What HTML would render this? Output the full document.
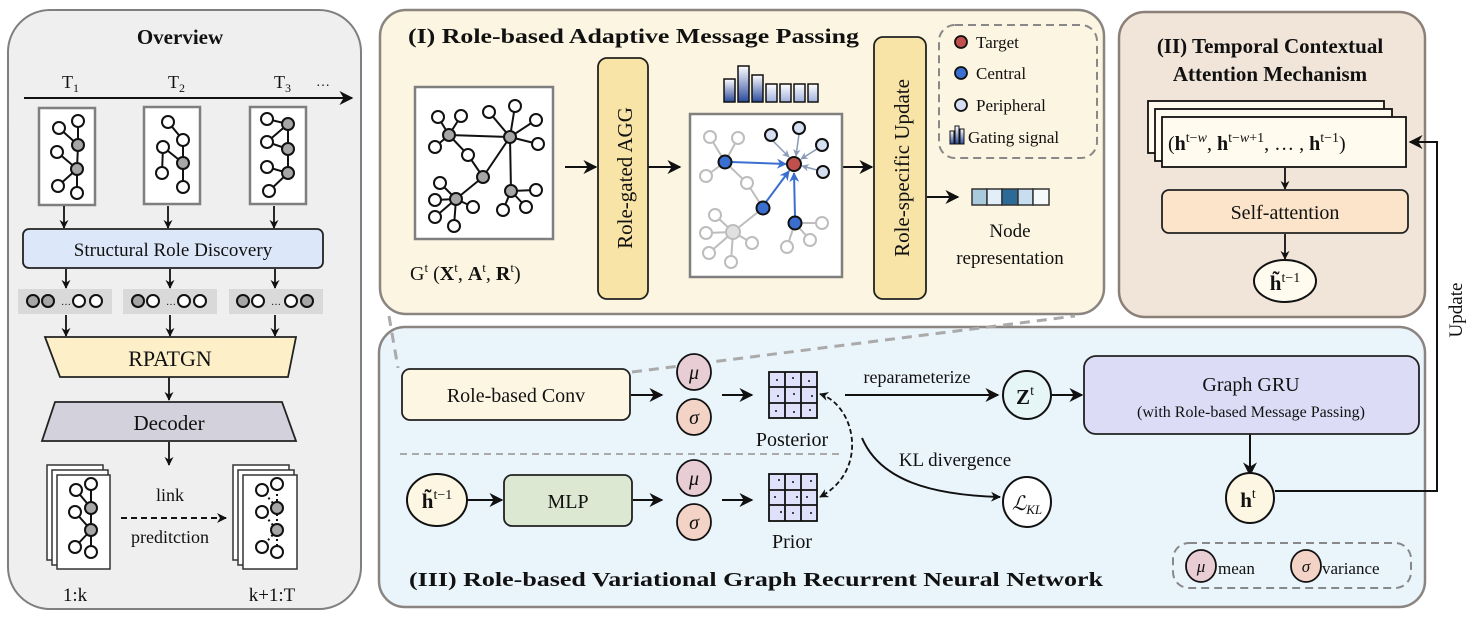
<!DOCTYPE html>
<html><head><meta charset="utf-8"><style>
html,body{margin:0;padding:0;background:#fff}
svg{display:block}
text{font-family:"Liberation Serif",serif;fill:#111}
</style></head><body>
<svg width="1470" height="620" viewBox="0 0 1470 620" xmlns="http://www.w3.org/2000/svg">
<defs>
<marker id="ah" viewBox="0 0 10 10" refX="9" refY="5" markerWidth="7" markerHeight="7" orient="auto-start-reverse"><path d="M0,0 L10,5 L0,10 L3,5 z" fill="#111"/></marker>
<marker id="ahs" viewBox="0 0 10 10" refX="9" refY="5" markerWidth="5" markerHeight="5" orient="auto-start-reverse"><path d="M0,0 L10,5 L0,10 L3,5 z" fill="#111"/></marker>
<marker id="ahb" viewBox="0 0 10 10" refX="9" refY="5" markerWidth="5" markerHeight="5" orient="auto"><path d="M0,0 L10,5 L0,10 L3,5 z" fill="#3a6fd0"/></marker>
<marker id="ahg" viewBox="0 0 10 10" refX="9" refY="5" markerWidth="5" markerHeight="5" orient="auto"><path d="M0,0 L10,5 L0,10 L3,5 z" fill="#8a9ab8"/></marker>
<linearGradient id="gb" x1="0" y1="0" x2="0" y2="1"><stop offset="0" stop-color="#fff"/><stop offset="1" stop-color="#2a4a9c"/></linearGradient>
<linearGradient id="gl" x1="0" y1="0" x2="0" y2="1"><stop offset="0" stop-color="#fff"/><stop offset="1" stop-color="#9fb0dc"/></linearGradient>
</defs>

<!-- ============ OVERVIEW ============ -->
<rect x="8" y="10" width="353" height="599" rx="42" fill="#efefef" stroke="#7f7f7f" stroke-width="2"/>
<text x="180" y="44" font-size="21" font-weight="bold" text-anchor="middle">Overview</text>
<line x1="24" y1="98" x2="352" y2="98" stroke="#111" stroke-width="2" marker-end="url(#ah)"/>
<text x="62" y="88" font-size="18">T<tspan font-size="12" dy="4">1</tspan></text>
<text x="168" y="88" font-size="18">T<tspan font-size="12" dy="4">2</tspan></text>
<text x="274" y="88" font-size="18">T<tspan font-size="12" dy="4">3</tspan></text>
<text x="316" y="86" font-size="14">…</text>

<g stroke="#7f7f7f" stroke-width="2.5" fill="#fff">
<rect x="39" y="108" width="56" height="97"/><rect x="144" y="107" width="56" height="97"/><rect x="250" y="107" width="56" height="97"/>
</g>
<g stroke="#111" stroke-width="2" fill="none">
<path d="M59,128 L78,145 M78,121 L78,145 L77,169 M57,152 L77,169 L58,186 M77,169 L77,193"/>
<path d="M168,122 L183,140 L183,163 M163,147 L183,163 L183,187 M163,147 L162,173"/>
<path d="M267,119 L288,124 L288,149 L288,173 M288,124 L267,142 L288,149 M267,167 L288,173 L269,191"/>
</g>
<g stroke="#111" stroke-width="2" fill="#fff">
<circle cx="59" cy="128" r="6"/><circle cx="78" cy="121" r="6"/><circle cx="57" cy="152" r="6"/><circle cx="58" cy="186" r="6"/><circle cx="77" cy="193" r="6"/>
<circle cx="78" cy="145" r="6" fill="#a6a6a6"/><circle cx="77" cy="169" r="6" fill="#a6a6a6"/>
<circle cx="168" cy="122" r="6"/><circle cx="183" cy="140" r="6"/><circle cx="163" cy="147" r="6"/><circle cx="162" cy="173" r="6"/><circle cx="183" cy="187" r="6"/><circle cx="183" cy="163" r="6" fill="#a6a6a6"/>
<circle cx="267" cy="119" r="6"/><circle cx="267" cy="142" r="6"/><circle cx="267" cy="167" r="6"/><circle cx="269" cy="191" r="6"/>
<circle cx="288" cy="124" r="6" fill="#a6a6a6"/><circle cx="288" cy="149" r="6" fill="#a6a6a6"/><circle cx="288" cy="173" r="6" fill="#a6a6a6"/>
</g>
<g stroke="#111" stroke-width="1.8" marker-end="url(#ahs)">
<line x1="64" y1="206" x2="64" y2="228"/><line x1="168" y1="206" x2="168" y2="228"/><line x1="274" y1="206" x2="274" y2="228"/>
<line x1="66" y1="269" x2="66" y2="288"/><line x1="170" y1="269" x2="170" y2="288"/><line x1="275" y1="269" x2="275" y2="288"/>
<line x1="66" y1="315" x2="66" y2="336"/><line x1="170" y1="315" x2="170" y2="336"/><line x1="275" y1="315" x2="275" y2="336"/>
<line x1="169" y1="377" x2="169" y2="400"/><line x1="169" y1="442" x2="169" y2="465"/>
</g>
<rect x="23" y="229" width="300" height="39" rx="6" fill="#dce8f9" stroke="#222" stroke-width="1.8"/>
<text x="173" y="256" font-size="19" text-anchor="middle">Structural Role Discovery</text>
<g fill="#d9d9d9"><rect x="18" y="289" width="94" height="25"/><rect x="123" y="289" width="94" height="25"/><rect x="229" y="289" width="94" height="25"/></g>
<g stroke="#111" stroke-width="2">
<g fill="#a6a6a6"><circle cx="33" cy="301" r="6"/><circle cx="48" cy="301" r="6"/><circle cx="138" cy="301" r="6"/><circle cx="243" cy="301" r="6"/><circle cx="307" cy="301" r="6"/></g>
<g fill="#fff"><circle cx="79" cy="301" r="6"/><circle cx="96" cy="301" r="6"/><circle cx="153" cy="301" r="6"/><circle cx="184" cy="301" r="6"/><circle cx="200" cy="301" r="6"/><circle cx="258" cy="301" r="6"/><circle cx="291" cy="301" r="6"/></g>
</g>
<text x="66" y="305" font-size="10" text-anchor="middle">…</text><text x="171" y="305" font-size="10" text-anchor="middle">…</text><text x="276" y="305" font-size="10" text-anchor="middle">…</text>
<polygon points="45,337 296,337 288,377 60,377" fill="#fdf0c8" stroke="#222" stroke-width="1.8"/>
<text x="170" y="366" font-size="22" text-anchor="middle">RPATGN</text>
<polygon points="55,402 282,402 296,441 42,441" fill="#d3d1dc" stroke="#222" stroke-width="1.8"/>
<text x="169" y="430" font-size="21" text-anchor="middle">Decoder</text>
<!-- stacks -->
<g stroke="#333" stroke-width="1.5" fill="#fff">
<rect x="47" y="465" width="56" height="95"/><rect x="52" y="470" width="56" height="95"/><rect x="57" y="475" width="53" height="94"/>
<rect x="233" y="465" width="56" height="95"/><rect x="238" y="470" width="56" height="95"/><rect x="243" y="475" width="54" height="94"/>
</g>
<g stroke="#111" stroke-width="2" fill="none">
<path d="M76,490 L91,508 M91,484 L91,508 L91,530 M75,512 L91,530 L75,547 M91,530 L91,552"/>
</g>
<g stroke="#111" stroke-width="2" stroke-dasharray="2,3" fill="none">
<path d="M262,490 L277,508 M262,512 L277,530 L262,547"/>
<path d="M277,484 L277,552"/>
</g>
<g stroke="#111" stroke-width="2" fill="#fff">
<circle cx="76" cy="490" r="6"/><circle cx="91" cy="484" r="6"/><circle cx="75" cy="512" r="6"/><circle cx="75" cy="547" r="6"/><circle cx="91" cy="552" r="6"/>
<circle cx="91" cy="508" r="6" fill="#a6a6a6"/><circle cx="91" cy="530" r="6" fill="#a6a6a6"/>
<circle cx="262" cy="490" r="6"/><circle cx="277" cy="484" r="6"/><circle cx="262" cy="512" r="6"/><circle cx="262" cy="547" r="6"/><circle cx="277" cy="552" r="6"/>
<circle cx="277" cy="508" r="6" fill="#a6a6a6"/><circle cx="277" cy="530" r="6" fill="#a6a6a6"/>
</g>
<line x1="121" y1="518" x2="226" y2="518" stroke="#111" stroke-width="2" stroke-dasharray="6,4" marker-end="url(#ahs)"/>
<text x="170" y="501" font-size="18" text-anchor="middle">link</text>
<text x="170" y="543" font-size="18" text-anchor="middle">preditction</text>
<text x="75" y="601" font-size="19" text-anchor="middle">1:k</text>
<text x="272" y="601" font-size="19" text-anchor="middle">k+1:T</text>

<!-- ============ PANEL III ============ -->
<rect x="379" y="327" width="1046" height="280" rx="26" fill="#eaf4fb" stroke="#8a8580" stroke-width="2.5"/>
<!-- ============ PANEL I ============ -->
<rect x="380" y="10" width="724" height="304" rx="26" fill="#fcf5e1" stroke="#8a8580" stroke-width="2.5"/>
<g stroke="#aaa" stroke-width="3" stroke-dasharray="10,7" fill="none">
<path d="M389,316 L398,368"/><path d="M632,372 L1075,316"/>
</g>
<text x="408" y="43" font-size="21" font-weight="bold" textLength="451" lengthAdjust="spacingAndGlyphs">(I) Role-based Adaptive Message Passing</text>
<!-- graph 1 -->
<rect x="415" y="87" width="138" height="152" fill="#fff" stroke="#7f7f7f" stroke-width="2.5"/>
<g stroke="#111" stroke-width="2" fill="none">
<path d="M449,135 L510,137 M449,135 L438,117 M449,135 L461,116 M449,135 L435,147 M449,135 L468,155 L483,177 M510,137 L483,177 L456,199 M510,137 L489,112 M510,137 L515,106 M510,137 L536,120 M510,137 L538,144 M510,137 L511,191 M456,199 L440,183 M456,199 L435,200 M456,199 L435,217 M456,199 L454,226 M456,199 L473,207 M511,191 L503,210 M511,191 L526,207 M511,191 L536,190"/>
</g>
<g stroke="#111" stroke-width="2" fill="#fff">
<circle cx="438" cy="117" r="6"/><circle cx="461" cy="116" r="6"/><circle cx="435" cy="147" r="6"/><circle cx="468" cy="155" r="6"/><circle cx="489" cy="112" r="6"/><circle cx="515" cy="106" r="6"/><circle cx="536" cy="120" r="6"/><circle cx="538" cy="144" r="6"/><circle cx="440" cy="183" r="6"/><circle cx="435" cy="200" r="6"/><circle cx="435" cy="217" r="6"/><circle cx="454" cy="226" r="6"/><circle cx="473" cy="207" r="6"/><circle cx="503" cy="210" r="6"/><circle cx="526" cy="207" r="6"/><circle cx="536" cy="190" r="6"/>
<g fill="#a6a6a6"><circle cx="449" cy="135" r="6"/><circle cx="510" cy="137" r="6"/><circle cx="483" cy="177" r="6"/><circle cx="456" cy="199" r="6"/><circle cx="511" cy="191" r="6"/></g>
</g>
<text x="410" y="280" font-size="20">G<tspan font-size="13" dy="-8">t</tspan><tspan dy="8"> (</tspan><tspan font-weight="bold">X</tspan><tspan font-size="13" dy="-8">t</tspan><tspan dy="8">, </tspan><tspan font-weight="bold">A</tspan><tspan font-size="13" dy="-8">t</tspan><tspan dy="8">, </tspan><tspan font-weight="bold">R</tspan><tspan font-size="13" dy="-8">t</tspan><tspan dy="8">)</tspan></text>
<g stroke="#111" stroke-width="2" marker-end="url(#ah)">
<line x1="565" y1="167" x2="596" y2="167"/><line x1="648" y1="167" x2="680" y2="167"/><line x1="843" y1="167" x2="872" y2="167"/><line x1="927" y1="197" x2="958" y2="197"/>
</g>
<rect x="598" y="58" width="50" height="241" rx="9" fill="#f8e4a6" stroke="#222" stroke-width="1.8"/>
<text transform="translate(632,178) rotate(-90)" font-size="21" text-anchor="middle">Role-gated AGG</text>
<rect x="874" y="37" width="52" height="262" rx="9" fill="#f8e4a6" stroke="#222" stroke-width="1.8"/>
<text transform="translate(909,168) rotate(-90)" font-size="21" text-anchor="middle">Role-specific Update</text>
<!-- bars -->
<g stroke="#111" stroke-width="1.5">
<rect x="724" y="79" width="11" height="23" fill="url(#gb)"/><rect x="738" y="66" width="11" height="36" fill="url(#gb)"/><rect x="752" y="75" width="11" height="27" fill="url(#gb)"/>
<rect x="766" y="84" width="11" height="18" fill="url(#gl)"/><rect x="780" y="84" width="11" height="18" fill="url(#gl)"/><rect x="794" y="84" width="11" height="18" fill="url(#gl)"/><rect x="808" y="84" width="10" height="18" fill="url(#gl)"/>
</g>
<!-- graph 2 -->
<rect x="690" y="114" width="152" height="163" fill="#fff" stroke="#7f7f7f" stroke-width="2.5"/>
<g stroke="#bdbdbd" stroke-width="2" fill="none">
<path d="M725,162 L710,137 M725,162 L738,138 M725,162 L706,176 M725,162 L747,183 L763,208 L733,232 M733,232 L715,215 M733,232 L706,233 M733,232 L709,253 M733,232 L731,262 M733,232 L752,243 M795,223 L787,247 M795,223 L810,240 M795,223 L822,223"/>
</g>
<g stroke="#8a9ab8" stroke-width="1.5" marker-end="url(#ahg)">
<line x1="773" y1="141" x2="789" y2="157"/><line x1="799" y1="134" x2="796" y2="156"/><line x1="817" y1="149" x2="801" y2="159"/><line x1="817" y1="170" x2="802" y2="166"/>
</g>
<g stroke="#3a6fd0" stroke-width="2" marker-end="url(#ahb)">
<line x1="731" y1="162" x2="786" y2="164"/><line x1="766" y1="202" x2="789" y2="171"/><line x1="795" y1="217" x2="794" y2="173"/>
</g>
<g stroke="#bdbdbd" stroke-width="2" fill="#fff">
<circle cx="710" cy="137" r="6"/><circle cx="738" cy="138" r="6"/><circle cx="706" cy="176" r="6"/><circle cx="747" cy="183" r="6"/><circle cx="715" cy="215" r="6"/><circle cx="706" cy="233" r="6"/><circle cx="709" cy="253" r="6"/><circle cx="731" cy="262" r="6"/><circle cx="752" cy="243" r="6"/><circle cx="787" cy="247" r="6"/><circle cx="810" cy="240" r="6"/><circle cx="822" cy="223" r="6"/>
<circle cx="733" cy="232" r="7" fill="#e0e0e0"/>
</g>
<g stroke="#111" stroke-width="2">
<g fill="#d6dff2"><circle cx="771" cy="135" r="6"/><circle cx="799" cy="128" r="6"/><circle cx="822" cy="145" r="6"/><circle cx="823" cy="172" r="6"/></g>
<g fill="#3a6fd0"><circle cx="725" cy="162" r="6.5"/><circle cx="763" cy="208" r="6.5"/><circle cx="795" cy="223" r="6.5"/></g>
<circle cx="794" cy="164" r="7" fill="#c0504d"/>
</g>
<!-- legend -->
<rect x="939" y="25" width="158" height="133" rx="16" fill="none" stroke="#888" stroke-width="2" stroke-dasharray="8,5"/>
<g stroke="#111" stroke-width="1.8">
<circle cx="961" cy="42" r="6" fill="#c0504d"/><circle cx="961" cy="73" r="6" fill="#3a6fd0"/><circle cx="961" cy="105" r="6" fill="#d6dff2"/>
<rect x="950" y="131" width="4" height="13" fill="url(#gb)" stroke-width="1"/><rect x="955" y="126" width="4" height="18" fill="url(#gb)" stroke-width="1"/><rect x="960" y="129" width="4" height="15" fill="url(#gb)" stroke-width="1"/>
</g>
<text x="976" y="48" font-size="17">Target</text>
<text x="976" y="79" font-size="17">Central</text>
<text x="976" y="111" font-size="17">Peripheral</text>
<text x="968" y="143" font-size="17">Gating signal</text>
<g stroke="#333" stroke-width="1.5">
<rect x="972" y="189" width="15" height="16" fill="#a9cadd"/><rect x="987" y="189" width="15" height="16" fill="#e3eff8"/><rect x="1002" y="189" width="16" height="16" fill="#2c6a98"/><rect x="1018" y="189" width="15" height="16" fill="#c8ddf0"/><rect x="1033" y="189" width="16" height="16" fill="#f5f9fb"/>
</g>
<text x="1010" y="237" font-size="19" text-anchor="middle">Node</text>
<text x="1010" y="264" font-size="19" text-anchor="middle">representation</text>

<!-- ============ PANEL II ============ -->
<rect x="1119" y="12" width="306" height="305" rx="26" fill="#f1e5d9" stroke="#8a8078" stroke-width="2.5"/>
<text x="1270" y="53" font-size="21" font-weight="bold" text-anchor="middle">(II) Temporal Contextual</text>
<text x="1270" y="81" font-size="21" font-weight="bold" text-anchor="middle">Attention Mechanism</text>
<g stroke="#111" stroke-width="1.8" fill="#fffbef">
<rect x="1148" y="101" width="236" height="52"/><rect x="1155" y="109" width="237" height="52"/><rect x="1162" y="117" width="244" height="50"/>
</g>
<text x="1168" y="150" font-size="20">(<tspan font-weight="bold">h</tspan><tspan font-size="14" dy="-8">t−<tspan font-style="italic">w</tspan></tspan><tspan dy="8">, </tspan><tspan font-weight="bold">h</tspan><tspan font-size="14" dy="-8">t−<tspan font-style="italic">w</tspan>+1</tspan><tspan dy="8">, … , </tspan><tspan font-weight="bold">h</tspan><tspan font-size="14" dy="-8">t−1</tspan><tspan dy="8">)</tspan></text>
<g stroke="#111" stroke-width="1.8" marker-end="url(#ahs)">
<line x1="1285" y1="168" x2="1285" y2="189"/><line x1="1285" y1="234" x2="1285" y2="259"/>
</g>
<rect x="1162" y="190" width="246" height="43" rx="7" fill="#fce4cb" stroke="#222" stroke-width="1.8"/>
<text x="1285" y="219" font-size="20" text-anchor="middle">Self-attention</text>
<ellipse cx="1285" cy="281" rx="31" ry="21" fill="#fffbef" stroke="#111" stroke-width="2"/>
<text x="1285" y="290" font-size="21" text-anchor="middle"><tspan font-weight="bold">h̃</tspan><tspan font-size="14" dy="-8">t−1</tspan></text>
<!-- update loop -->
<path d="M1275,491 L1437,491 L1437,142 L1410,142" fill="none" stroke="#111" stroke-width="2" marker-end="url(#ah)"/>
<text transform="translate(1462,310) rotate(-90)" font-size="19" text-anchor="middle">Update</text>

<!-- ============ PANEL III content ============ -->
<rect x="402" y="369" width="228" height="51" rx="8" fill="#fdf6e3" stroke="#222" stroke-width="1.8"/>
<text x="516" y="402" font-size="20" text-anchor="middle">Role-based Conv</text>
<line x1="400" y1="454" x2="842" y2="454" stroke="#aaa" stroke-width="2" stroke-dasharray="7,5"/>
<g stroke="#111" stroke-width="2" marker-end="url(#ah)">
<line x1="631" y1="395" x2="662" y2="395"/><line x1="722" y1="395" x2="752" y2="395"/>
<line x1="633" y1="500" x2="662" y2="500"/><line x1="722" y1="500" x2="752" y2="500"/>
<line x1="468" y1="500" x2="502" y2="500"/>
<line x1="845" y1="395" x2="998" y2="395"/><line x1="1052" y1="395" x2="1082" y2="395"/>
<line x1="1250" y1="434" x2="1250" y2="475"/>
</g>
<g stroke="#111" stroke-width="1.8">
<ellipse cx="694" cy="372" rx="17" ry="18" fill="#e8cdd5"/><ellipse cx="694" cy="417" rx="17" ry="18" fill="#f2d3c6"/>
<ellipse cx="694" cy="478" rx="17" ry="18" fill="#e8cdd5"/><ellipse cx="694" cy="522" rx="17" ry="18" fill="#f2d3c6"/>
</g>
<g font-size="20" font-style="italic" text-anchor="middle"><text x="694" y="379">μ</text><text x="694" y="424">σ</text><text x="694" y="485">μ</text><text x="694" y="529">σ</text></g>
<!-- grids -->
<g stroke="#111" stroke-width="1.8" fill="#dfe1fa">
<rect x="769" y="372" width="48" height="46"/><rect x="769" y="474" width="48" height="47"/>
<path d="M785,372 V418 M801,372 V418 M769,387 H817 M769,403 H817 M785,474 V521 M801,474 V521 M769,490 H817 M769,505 H817" fill="none"/>
</g>
<g fill="#111">
<circle cx="777" cy="380" r="1"/><circle cx="793" cy="378" r="1"/><circle cx="809" cy="381" r="1"/><circle cx="778" cy="396" r="1"/><circle cx="794" cy="394" r="1"/><circle cx="812" cy="396" r="1"/><circle cx="776" cy="411" r="1"/><circle cx="794" cy="412" r="1"/><circle cx="810" cy="410" r="1"/>
<circle cx="779" cy="480" r="1"/><circle cx="793" cy="482" r="1"/><circle cx="811" cy="481" r="1"/><circle cx="775" cy="497" r="1"/><circle cx="797" cy="497" r="1"/><circle cx="807" cy="497" r="1"/><circle cx="781" cy="512" r="1"/><circle cx="793" cy="513" r="1"/><circle cx="811" cy="513" r="1"/>
</g>
<text x="792" y="446" font-size="20" text-anchor="middle">Posterior</text>
<text x="792" y="548" font-size="20" text-anchor="middle">Prior</text>
<path d="M820,394 C855,405 870,470 820,497" fill="none" stroke="#111" stroke-width="1.8" stroke-dasharray="5,3" marker-start="url(#ahs)" marker-end="url(#ahs)"/>
<path d="M862,438 C880,480 930,495 1000,497" fill="none" stroke="#111" stroke-width="2" marker-end="url(#ahs)"/>
<text x="917" y="383" font-size="18" text-anchor="middle">reparameterize</text>
<text x="955" y="466" font-size="19" text-anchor="middle">KL divergence</text>
<circle cx="1027" cy="395" r="24" fill="#e6f5f5" stroke="#111" stroke-width="2"/>
<text x="1025" y="404" font-size="21" text-anchor="middle"><tspan font-weight="bold">Z</tspan><tspan font-size="14" dy="-9">t</tspan></text>
<ellipse cx="1027" cy="502" rx="24" ry="25" fill="#fff" stroke="#111" stroke-width="2"/>
<text x="1027" y="510" font-size="20" font-style="italic" text-anchor="middle">ℒ<tspan font-size="13" dy="4">KL</tspan></text>
<rect x="1084" y="356" width="335" height="78" rx="12" fill="#dcdcf7" stroke="#222" stroke-width="1.8"/>
<text x="1251" y="391" font-size="20" text-anchor="middle">Graph GRU</text>
<text x="1251" y="417" font-size="16" text-anchor="middle">(with Role-based Message Passing)</text>
<ellipse cx="1250" cy="498" rx="24" ry="25" fill="#fdf6e3" stroke="#111" stroke-width="2"/>
<text x="1248" y="507" font-size="21" text-anchor="middle"><tspan font-weight="bold">h</tspan><tspan font-size="14" dy="-9">t</tspan></text>
<ellipse cx="437" cy="500" rx="30" ry="26" fill="#fdf6e3" stroke="#111" stroke-width="2"/>
<text x="437" y="508" font-size="21" text-anchor="middle"><tspan font-weight="bold">h̃</tspan><tspan font-size="14" dy="-9">t−1</tspan></text>
<rect x="504" y="475" width="128" height="51" rx="8" fill="#dde8d3" stroke="#222" stroke-width="1.8"/>
<text x="568" y="508" font-size="20" text-anchor="middle">MLP</text>
<text x="409" y="586" font-size="20" font-weight="bold" textLength="694" lengthAdjust="spacingAndGlyphs">(III) Role-based Variational Graph Recurrent Neural Network</text>
<rect x="1173" y="543" width="238" height="45" rx="16" fill="none" stroke="#888" stroke-width="2" stroke-dasharray="8,5"/>
<ellipse cx="1201" cy="566" rx="15" ry="16" fill="#e8cdd5" stroke="#111" stroke-width="1.8"/>
<ellipse cx="1306" cy="566" rx="15" ry="16" fill="#f2d3c6" stroke="#111" stroke-width="1.8"/>
<text x="1201" y="572" font-size="17" font-style="italic" text-anchor="middle">μ</text>
<text x="1306" y="572" font-size="17" font-style="italic" text-anchor="middle">σ</text>
<text x="1218" y="574" font-size="17">mean</text>
<text x="1322" y="574" font-size="17">variance</text>
</svg>
</body></html>
